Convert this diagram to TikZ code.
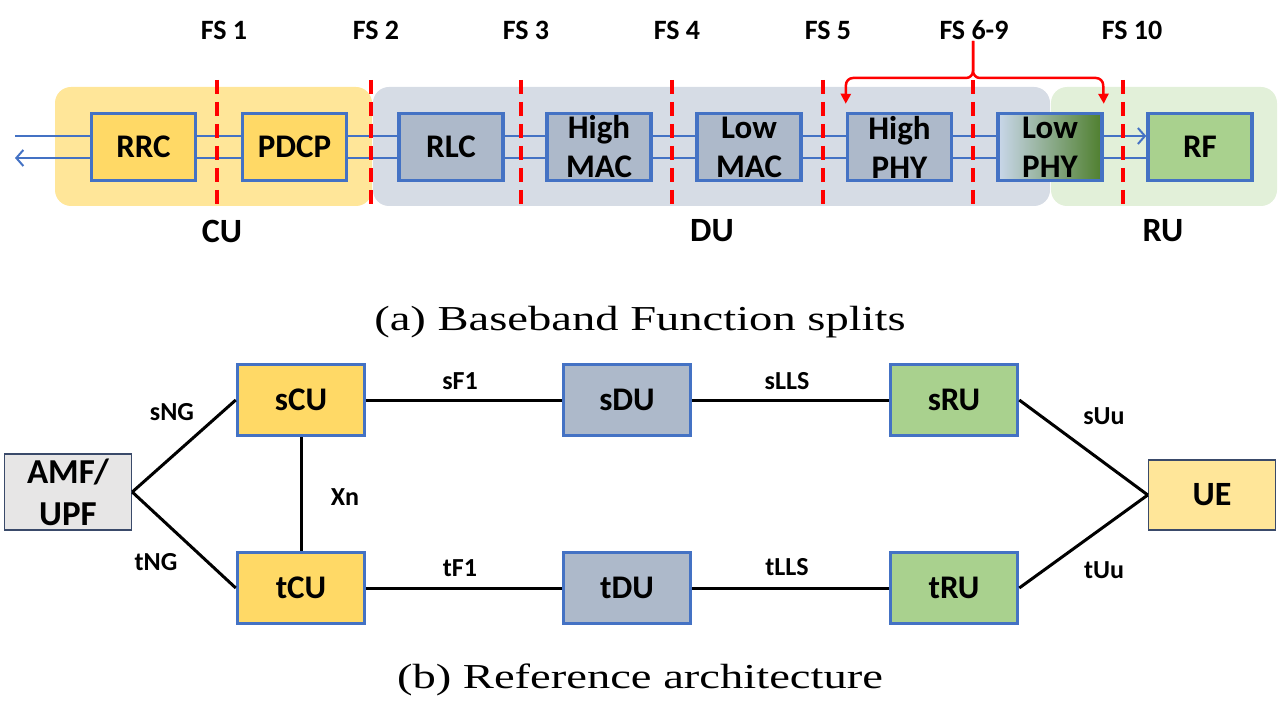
\documentclass[tikz,border=0pt]{standalone}
\usepackage{graphicx}
\usepackage{fontspec}
\setmainfont{Carlito}
\newfontfamily\capfont{Liberation Serif}
\usetikzlibrary{arrows.meta}

\definecolor{cubg}{HTML}{FFE699}
\definecolor{dubg}{HTML}{D6DCE5}
\definecolor{rubg}{HTML}{E2F0D9}
\definecolor{cufill}{HTML}{FFD966}
\definecolor{dufill}{HTML}{ADB9CA}
\definecolor{rufill}{HTML}{A9D18E}
\definecolor{boxblue}{HTML}{4472C4}
\definecolor{corefill}{HTML}{E7E6E6}
\definecolor{darkedge}{HTML}{3A4A6A}
\definecolor{phyleft}{HTML}{C9D7EA}
\definecolor{phyright}{HTML}{4F7F2E}
\definecolor{splitred}{HTML}{FF0000}

\newcommand{\captext}[1]{\scalebox{1.33}[1]{#1}}

\begin{document}
\begin{tikzpicture}[x=1pt, y=-1pt,
  blk/.style={draw=boxblue, line width=3.5pt, minimum width=104pt, minimum height=67pt,
    inner sep=0pt, align=center, font=\fontsize{33}{39}\selectfont\bfseries},
  ent/.style={blk, minimum width=127pt, minimum height=71pt},
  endbox/.style={ent, draw=darkedge, line width=1.5pt},
  flow/.style={draw=boxblue, line width=2pt},
  split/.style={draw=splitred, line width=3.5pt, dash pattern=on 14pt off 8pt},
  brk/.style={draw=splitred, line width=2.5pt, rounded corners=7pt, -{Triangle[length=10pt,width=10pt]}},
  fslbl/.style={font=\fontsize{28}{30}\selectfont\bfseries},
  grp/.style={font=\fontsize{34}{36}\selectfont\bfseries},
  lnk/.style={line width=3pt},
  lnklbl/.style={font=\fontsize{26}{28}\selectfont\bfseries},
  captxt/.style={font=\capfont\fontsize{35}{40}\selectfont}]
\useasboundingbox (0,0) rectangle (1280,703);

% unit backgrounds
\fill[cubg, rounded corners=16pt] (55,87) rectangle (372,206);
\fill[dubg, rounded corners=16pt] (373,87) rectangle (1050,206);
\fill[rubg, rounded corners=16pt] (1051,87) rectangle (1277,206);

% protocol blocks
\node[blk, fill=cufill] (rrc) at (143.5,147) {RRC};
\node[blk, fill=cufill] (pdcp) at (294.5,147) {PDCP};
\node[blk, fill=dufill] (rlc) at (451,147) {RLC};
\node[blk, fill=dufill] (hmac) at (599,147) {High\\MAC};
\node[blk, fill=dufill] (lmac) at (749,147) {Low\\MAC};
\node[blk, fill=dufill] (hphy) at (899.5,147) {High\\PHY};
\node[blk, left color=phyleft, right color=phyright] (lphy) at (1050,147) {Low\\PHY};
\node[blk, fill=rufill] (rf) at (1200,147) {RF};

% data paths
\coordinate (dlin) at (15,136);
\coordinate (ulout) at (15,158);
\draw[flow] (dlin) -- ([yshift=11pt]rrc.west);
\draw[flow, -{Straight Barb[length=7pt,width=16pt]}] ([yshift=-11pt]rrc.west) -- (ulout);
\foreach \a/\b in {rrc/pdcp, pdcp/rlc, rlc/hmac, hmac/lmac, lmac/hphy, hphy/lphy}{
  \draw[flow] ([yshift=11pt]\a.east) -- ([yshift=11pt]\b.west);
  \draw[flow] ([yshift=-11pt]\a.east) -- ([yshift=-11pt]\b.west);
}
\draw[flow, -{Straight Barb[length=7pt,width=16pt]}] ([yshift=11pt]lphy.east) -- ([yshift=11pt]rf.west);
\draw[flow] ([yshift=-11pt]lphy.east) -- ([yshift=-11pt]rf.west);

% split points
\foreach \x/\lx/\t/\n in {217/224/FS 1/fsa, 371/376/FS 2/fsb, 521/526/FS 3/fsc, 672/677/FS 4/fsd,
    823/828/FS 5/fse, 973/974/FS 6-9/fsf, 1123/1132/FS 10/fsg}{
  \draw[split] (\x,80) -- (\x,210);
  \node[fslbl] (\n) at (\lx,30) {\t};
}

% lower layer split range
\coordinate (brtop) at (973,41);
\draw[brk] (brtop) |- (846,78) -- ([yshift=8pt]hphy.north west);
\draw[brk] (brtop) |- (1103,78) -- ([yshift=8pt]lphy.north east);

\node[grp] (cu) at (222,231) {CU};
\node[grp] (du) at (712,231) {DU};
\node[grp] (ru) at (1163,231) {RU};

\node[captxt] (capa) at (640,322) {\captext{(a) Baseband Function splits}};

% reference architecture
\node[endbox, fill=corefill, minimum height=76pt, font=\fontsize{35}{42}\selectfont\bfseries] (core) at (68,492) {AMF/\\UPF};
\node[ent, fill=cufill] (scu) at (301,400) {sCU};
\node[ent, fill=dufill] (sdu) at (627,400) {sDU};
\node[ent, fill=rufill] (sru) at (954,400) {sRU};
\node[ent, fill=cufill] (tcu) at (301,588) {tCU};
\node[ent, fill=dufill] (tdu) at (627,588) {tDU};
\node[ent, fill=rufill] (tru) at (954,588) {tRU};
\node[endbox, fill=cubg, minimum height=70pt, font=\fontsize{34}{40}\selectfont\bfseries] (ue) at (1212,495) {UE};

\draw[lnk] (core.east) -- (scu.west);
\draw[lnk] (core.east) -- (tcu.west);
\draw[lnk] (scu) -- (tcu);
\draw[lnk] (scu) -- (sdu);
\draw[lnk] (sdu) -- (sru);
\draw[lnk] (tcu) -- (tdu);
\draw[lnk] (tdu) -- (tru);
\draw[lnk] (sru.east) -- (ue.west);
\draw[lnk] (tru.east) -- (ue.west);

\node[lnklbl] (sng) at (172,412) {sNG};
\node[lnklbl] (tng) at (156,562) {tNG};
\node[lnklbl] (xn) at (345,497) {Xn};
\node[lnklbl] (sfa) at (460,381) {sF1};
\node[lnklbl] (slls) at (787,381) {sLLS};
\node[lnklbl] (tfa) at (460,568) {tF1};
\node[lnklbl] (tlls) at (787,567) {tLLS};
\node[lnklbl] (suu) at (1104,416) {sUu};
\node[lnklbl] (tuu) at (1104,570) {tUu};

\node[captxt] (capb) at (640,680) {\captext{(b) Reference architecture}};
\end{tikzpicture}
\end{document}
